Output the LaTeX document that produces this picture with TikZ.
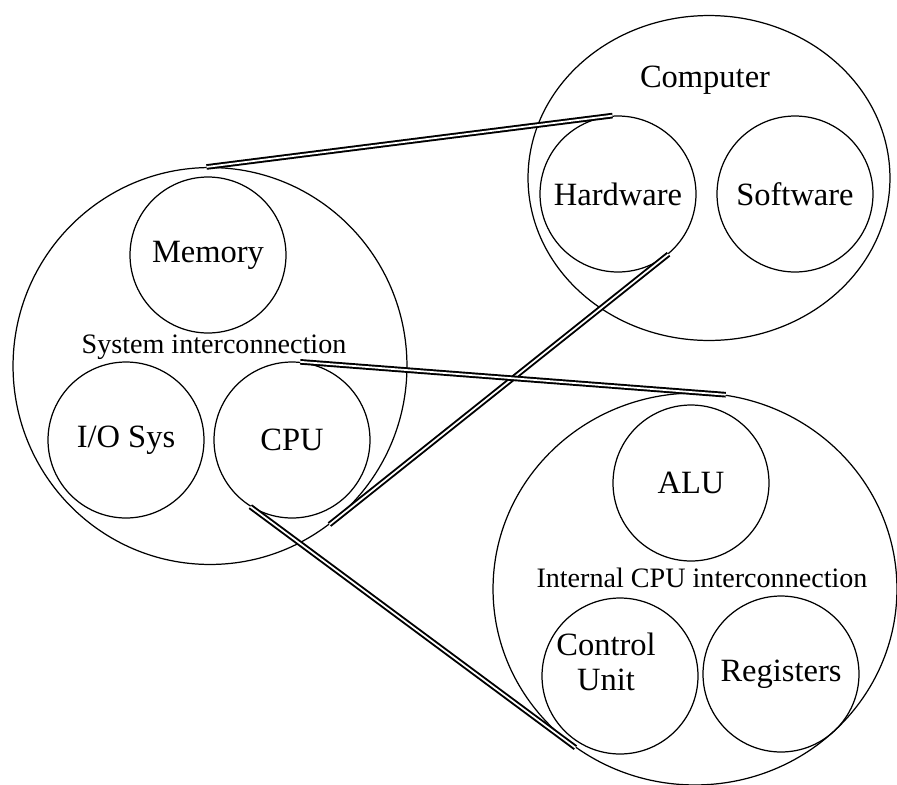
\documentclass[tikz,border=0pt]{standalone}
\usepackage{fontspec}
\setmainfont{Liberation Serif}
\usetikzlibrary{shapes.geometric}

\begin{document}
\begin{tikzpicture}[
    x=0.02cm, y=-0.02cm,
    ring/.style={draw, circle, line width=0.7pt, inner sep=0pt,
                 minimum size=3.12cm, align=center,
                 font=\fontsize{18.5}{20}\selectfont},
    shell/.style={draw, ellipse, line width=0.7pt, inner sep=0pt},
    bus/.style={font=\fontsize{16}{18}\selectfont},
    zoomline/.style={draw, line width=1.1pt, double=white, double distance=1pt},
  ]
  \useasboundingbox (0,0) rectangle (897,785);

  % Computer level
  \node[shell, minimum width=7.24cm, minimum height=6.5cm] (comp) at (709,178) {};
  \node[font=\fontsize{18.5}{20}\selectfont] (compLbl) at (705,80) {Computer};
  \node[ring] (hw) at (618,194) {Hardware};
  \node[ring] (sw) at (795,194) {Software};

  % System level (inside the hardware)
  \node[shell, minimum width=7.88cm, minimum height=7.94cm] (sys) at (210,366) {};
  \node[ring] (mem) at (208,255) {Memory};
  \node[bus] (sysBus) at (214,347) {System interconnection};
  \node[ring] (io) at (126,440) {I/O Sys};
  \node[ring] (cpu) at (292,440) {CPU};

  % CPU level (inside the processor)
  \node[shell, minimum width=8.08cm, minimum height=7.84cm] (core) at (695,589) {};
  \node[ring] (alu) at (691,483) {ALU};
  \node[bus] (cpuBus) at (702,578) {Internal CPU interconnection};
  \node[ring] (cu) at (620,676) {};
  \node[align=center, font=\fontsize{18.5}{20}\selectfont] (cuLbl) at (606,662) {Control\\Unit};
  \node[ring] (reg) at (781,674) {Registers};

  % zoom lines
  \draw[zoomline] (sys.91) -- (hw.94);
  \draw[zoomline] (sys.-53) -- (hw.-50);
  \draw[zoomline] (cpu.84) -- (core.81);
  \draw[zoomline] (cpu.-122) -- (core.-127);
\end{tikzpicture}
\end{document}
